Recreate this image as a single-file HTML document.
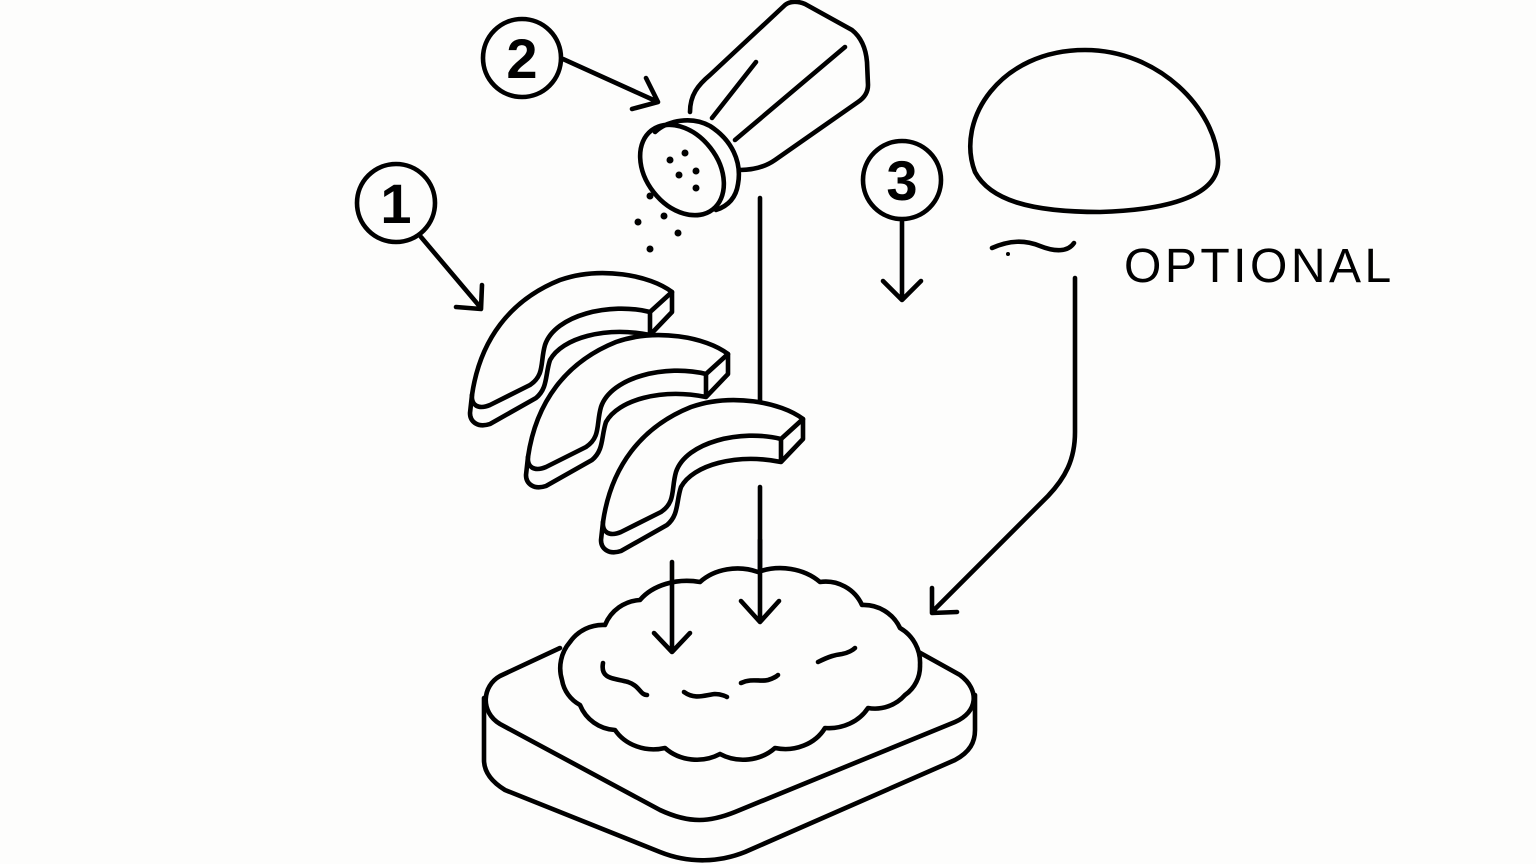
<!DOCTYPE html>
<html><head><meta charset="utf-8"><style>
html,body{margin:0;padding:0;background:#fdfdfc;}
svg{display:block}
</style></head><body>
<svg width="1536" height="864" viewBox="0 0 1536 864" xmlns="http://www.w3.org/2000/svg">
<rect width="1536" height="864" fill="#fdfdfc"/>
<g fill="none" stroke="#000" stroke-width="4.6" stroke-linecap="round" stroke-linejoin="round">
<circle cx="396" cy="203" r="39"/>
<circle cx="522" cy="58" r="39"/>
<circle cx="902" cy="180" r="39"/>
<path d="M421,237 L481,308 M482,285 L481,309 L456,307"/>
<path d="M563,59 L658,102 M646,78 L658,102 L632,109"/>
<path d="M902,220 L902,300 M883,281 L902,300 L921,281"/>
<!-- shaker -->
<path d="M690,112 C690,95 698,85 710,75 L785,5 C790,1 798,1 805,4 L852,30 C862,38 866,50 867,62 L868,85 C868,93 864,98 858,102 L775,160 C765,167 752,170 740,170"/>
<path d="M712,118 L756,62 M735,140 L845,47"/>
<ellipse cx="0" cy="0" rx="36" ry="50" transform="translate(682,170) rotate(-38)"/>
<path d="M655,132 C668,120 692,116 710,126 C732,140 742,162 738,184 C736,198 728,206 716,210"/>
<path d="M760,198 L760,402"/>
<path d="M760,487 L760,622 M741,601 L760,622 L779,601"/>
<!-- dome -->
<path d="M975,172 C955,120 1000,50 1085,50 C1160,50 1215,110 1218,160 C1220,195 1170,210 1100,212 C1030,212 990,200 975,172 Z"/>
<path d="M992,248 C1010,240 1025,240 1040,246 C1055,252 1068,252 1074,243"/>
<path d="M1075,278 L1075,432 C1075,460 1065,478 1048,496 L932,612 M932,588 L932,613 L957,612"/>
<!-- avocado slices -->
<g>
<path d="M672,292 C650,275 600,266 560,280 C510,300 480,340 472,395 C471,405 478,410 490,405 L530,385 C545,375 540,362 545,345 C555,315 610,302 650,312 Z"/>
<path d="M672,292 L672,312 L650,335 L650,312 M472,395 L470,413 C470,422 478,428 490,424 L536,398 C548,388 545,375 550,360 C562,338 605,326 650,335"/>
</g>
<g transform="translate(56,62)">
<path d="M672,292 C650,275 600,266 560,280 C510,300 480,340 472,395 C471,405 478,410 490,405 L530,385 C545,375 540,362 545,345 C555,315 610,302 650,312 Z"/>
<path d="M672,292 L672,312 L650,335 L650,312 M472,395 L470,413 C470,422 478,428 490,424 L536,398 C548,388 545,375 550,360 C562,338 605,326 650,335"/>
</g>
<g transform="translate(131,127)">
<path d="M672,292 C650,275 600,266 560,280 C510,300 480,340 472,395 C471,405 478,410 490,405 L530,385 C545,375 540,362 545,345 C555,315 610,302 650,312 Z"/>
<path d="M672,292 L672,312 L650,335 L650,312 M472,395 L470,413 C470,422 478,428 490,424 L536,398 C548,388 545,375 550,360 C562,338 605,326 650,335"/>
</g>
<!-- toast -->
<path d="M560,648 L500,676 C482,686 480,712 500,724 L660,810 C690,824 710,822 735,812 L955,722 C978,712 980,690 960,675 L915,650"/>
<path d="M484,698 L484,760 C484,772 492,782 505,790 L660,852 C690,864 720,862 745,852 L955,760 C970,752 975,742 975,730 L975,695"/>
<!-- guac -->
<path fill="#fdfdfc" d="M562,680 A40,40 0 0 1 570,642 A40,40 0 0 1 605,625 A40,40 0 0 1 640,600 A55,40 0 0 1 700,582 A50,40 0 0 1 758,572 A55,45 0 0 1 820,582 A40,40 0 0 1 862,605 A40,40 0 0 1 900,628 A40,40 0 0 1 920,665 A35,35 0 0 1 905,695 A40,40 0 0 1 868,708 A45,40 0 0 1 825,728 A45,40 0 0 1 775,748 A45,40 0 0 1 720,754 A45,40 0 0 1 665,748 A45,40 0 0 1 615,730 A40,40 0 0 1 580,705 A35,35 0 0 1 562,680 Z"/>
<path d="M672,562 L672,652 M654,633 L672,652 L690,633"/>
<path d="M760,540 L760,622 M741,601 L760,622 L779,601"/>
<path d="M603,663 C600,680 615,678 628,682 C640,686 640,695 647,695"/>
<path d="M684,692 C695,700 705,695 715,694 C722,694 727,697 727,697"/>
<path d="M741,683 C752,678 760,682 768,680 C775,678 778,675 778,675"/>
<path d="M818,662 C830,656 835,655 842,654 C848,653 853,650 855,648"/>
</g>
<g fill="#000">
<circle cx="670" cy="160" r="3.5"/><circle cx="685" cy="153" r="3.5"/><circle cx="679" cy="175" r="3.5"/><circle cx="696" cy="171" r="3.5"/><circle cx="696" cy="188" r="3.5"/>
<circle cx="650" cy="196" r="3.5"/><circle cx="664" cy="216" r="3.5"/><circle cx="638" cy="222" r="3.5"/><circle cx="678" cy="233" r="3.5"/><circle cx="650" cy="249" r="3.5"/>
<circle cx="1008" cy="254" r="2"/>
</g>
<g font-family="Liberation Sans, sans-serif" font-weight="bold" font-size="56" text-anchor="middle">
<text x="396" y="223">1</text>
<text x="522" y="78">2</text>
<text x="902" y="200">3</text>
</g>
<text x="1124" y="282" font-family="Liberation Sans, sans-serif" font-size="48" letter-spacing="3.5">OPTIONAL</text>
</svg>
</body></html>
